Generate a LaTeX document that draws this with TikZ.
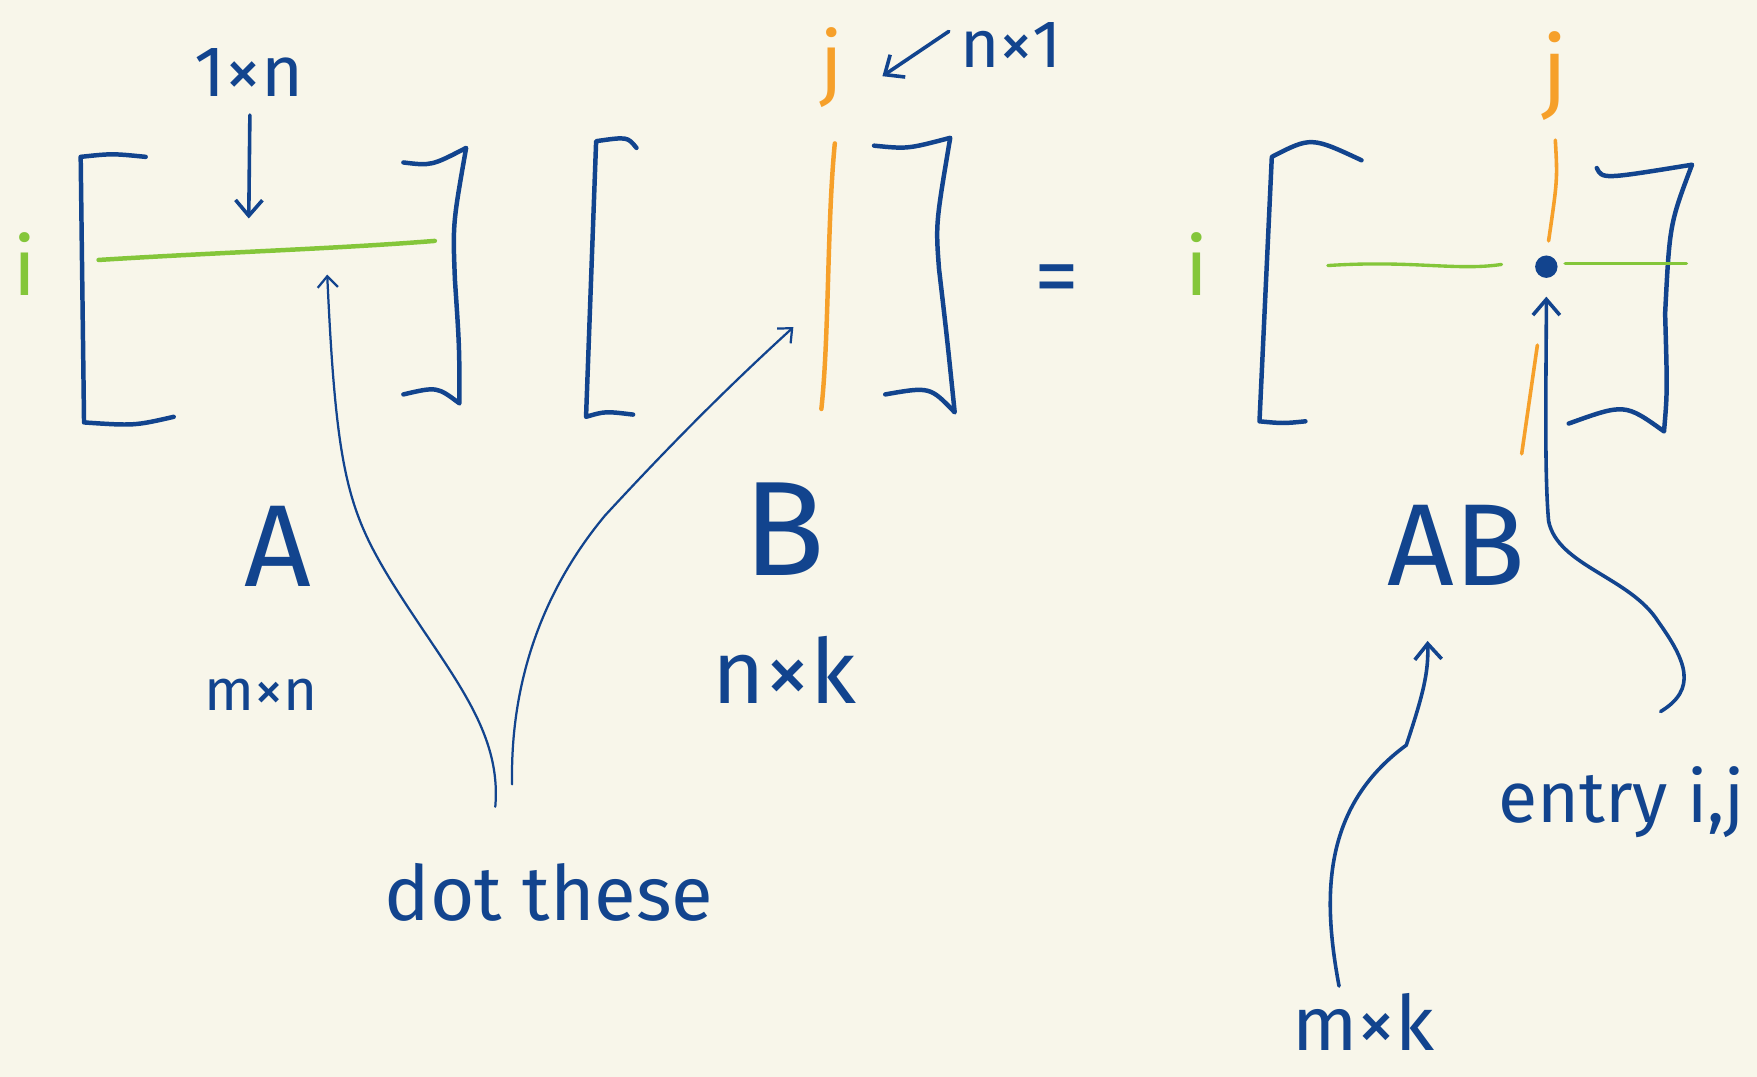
\documentclass[tikz,border=0pt]{standalone}
\usepackage{fontspec}
\setmainfont{Fira Sans}
\usetikzlibrary{arrows.meta}

\definecolor{paper}{RGB}{248,246,234}
\definecolor{inkblue}{RGB}{18,68,142}
\definecolor{rowgreen}{RGB}{132,198,58}
\definecolor{colorange}{RGB}{246,160,42}

\tikzset{every picture/.style={line width=0.75pt}}
\tikzset{
  bracket/.style={draw=inkblue, line width=2pt, line cap=round, line join=round},
  pointer/.style={draw=inkblue, line width=1pt, line cap=round, -{Straight Barb[length=5pt,width=9pt]}},
  boldpointer/.style={draw=inkblue, line width=1.6pt, line cap=round, -{Straight Barb[length=7pt,width=12pt]}},
  inklabel/.style={text=inkblue, inner sep=0.75pt},
  rowline/.style={draw=rowgreen, line width=2pt, line cap=round},
  colline/.style={draw=colorange, line width=2pt, line cap=round},
}

\begin{document}
\begin{tikzpicture}[x=0.5pt,y=0.5pt,yscale=-1,xscale=1]
\useasboundingbox [fill=paper] (0,0) rectangle (1568,961);

%Shape: Bracket A left
\draw [bracket] (130,140) .. controls (100,137) .. (72,140) -- (75,377) .. controls (120,380) .. (155,372) ;
%Shape: Bracket A right
\draw [bracket] (360,145) .. controls (385,148) .. (416,132) .. controls (404,200) .. (406,250) .. controls (410,310) .. (410,360) .. controls (390,345) .. (360,352) ;
%Shape: Bracket B left
\draw [bracket] (568,132) .. controls (560,122) .. (532,126) -- (523,372) .. controls (540,367) .. (565,370) ;
%Shape: Bracket B right
\draw [bracket] (780,130) .. controls (810,133) .. (848,123) .. controls (835,200) .. (838,240) .. controls (845,300) .. (852,368) .. controls (830,345) .. (790,352) ;
%Shape: Bracket AB left
\draw [bracket] (1215,143) .. controls (1170,122) .. (1135,140) -- (1124,376) .. controls (1145,378) .. (1165,376) ;
%Shape: Bracket AB right
\draw [bracket] (1425,150) .. controls (1430,160) .. (1510,147) .. controls (1490,200) .. (1486,280) .. controls (1488,350) .. (1485,385) .. controls (1450,360) .. (1400,378) ;

%Straight Lines: row i of A
\coordinate (rowAstart) at (88,232);
\coordinate (rowAend) at (388,215);
\draw [rowline] (rowAstart) .. controls (200,225) and (300,222) .. (rowAend) ;
\coordinate (rowAhit) at (292,245);
%Straight Lines: column j of B
\coordinate (colBtop) at (745,128);
\coordinate (colBbottom) at (733,365);
\draw [colline] (colBtop) .. controls (738,200) and (740,300) .. (colBbottom) ;
\coordinate (colBhit) at (708,292);

%Shape: entry i,j of AB
\node (entrydot) [circle, fill=inkblue, inner sep=0pt, minimum size=10pt] at (1380,238) {};
\draw [rowline, line width=1.5pt] (1185,237) .. controls (1260,232) and (1300,242) .. (1340,236) ;
\draw [rowline, line width=1.5pt] (entrydot.east) ++(6,-3) -- (1505,235) ;
\draw [colline, line width=1.6pt] (1388,125) .. controls (1390,160) .. (1382,215) ;
\draw [colline, line width=1.6pt] (1372,308) -- (1358,405) ;

% Text Node
\node (rowlblA) [text=rowgreen, font=\fontsize{36}{40}\selectfont] at (22,236) {i};
% Text Node
\node (sizerow) [inklabel, font=\fontsize{32}{36}\selectfont] at (222,65) {1×n};
% Text Node
\node (nameA) [inklabel, font=\fontsize{52}{56}\selectfont] at (248,488) {A};
% Text Node
\node (sizeA) [inklabel, font=\fontsize{26}{30}\selectfont] at (233,620) {m×n};
% Text Node
\node (collblB) [text=colorange, font=\fontsize{36}{40}\selectfont] at (742,60) {j};
% Text Node
\node (sizecol) [inklabel, font=\fontsize{30}{34}\selectfont] at (902,40) {n×1};
% Text Node
\node (nameB) [inklabel, font=\fontsize{60}{64}\selectfont] at (700,472) {B};
% Text Node
\node (sizeB) [inklabel, font=\fontsize{40}{44}\selectfont] at (700,598) {n×k};
% Text Node
\node (equals) [inklabel, font=\fontsize{40}{44}\selectfont] at (943,255) {=};
% Text Node
\node (rowlblAB) [text=rowgreen, font=\fontsize{36}{40}\selectfont] at (1068,236) {i};
% Text Node
\node (collblAB) [text=colorange, font=\fontsize{40}{44}\selectfont] at (1388,68) {j};
% Text Node
\node (nameAB) [inklabel, font=\fontsize{52}{56}\selectfont] at (1300,487) {AB};
% Text Node
\node (entrytxt) [inklabel, font=\fontsize{32}{36}\selectfont] at (1447,716) {entry i,j};
% Text Node
\node (sizeAB) [inklabel, font=\fontsize{34}{38}\selectfont] at (1217,912) {m×k};
% Text Node
\node (dotthese) [inklabel, font=\fontsize{34}{38}\selectfont] at (490,796) {dot these};

%Straight Lines: pointers
\draw [boldpointer] (sizerow.south) ++(1,14) -- ([yshift=-10]rowAend -| sizerow) ;
\draw [boldpointer] (sizecol.west) ++(-8,-12) -- ([xshift=14,yshift=4]collblB.east) ;
\coordinate (dottail1) at (442,720);
\coordinate (dottail2) at (457,700);
\draw [pointer] (dottail1) .. controls (448,650) and (400,600) .. (350,520) .. controls (310,455) and (300,420) .. (rowAhit) ;
\draw [pointer] (dottail2) .. controls (455,600) and (490,520) .. (540,460) .. controls (600,395) and (650,345) .. (colBhit) ;
\coordinate (mktail) at (1195,880);
\coordinate (ABhit) at (1274,572);
\draw [boldpointer] (mktail) .. controls (1180,800) and (1180,720) .. (1255,665) .. controls (1270,620) and (1275,600) .. (ABhit) ;
\coordinate (entrytail) at (1482,635);
\draw [boldpointer] (entrytail) .. controls (1515,615) and (1505,590) .. (1480,555) .. controls (1455,515) and (1390,505) .. (1382,465) .. controls (1378,420) and (1380,330) .. ([yshift=8]entrydot.south) ;

\end{tikzpicture}
\end{document}
